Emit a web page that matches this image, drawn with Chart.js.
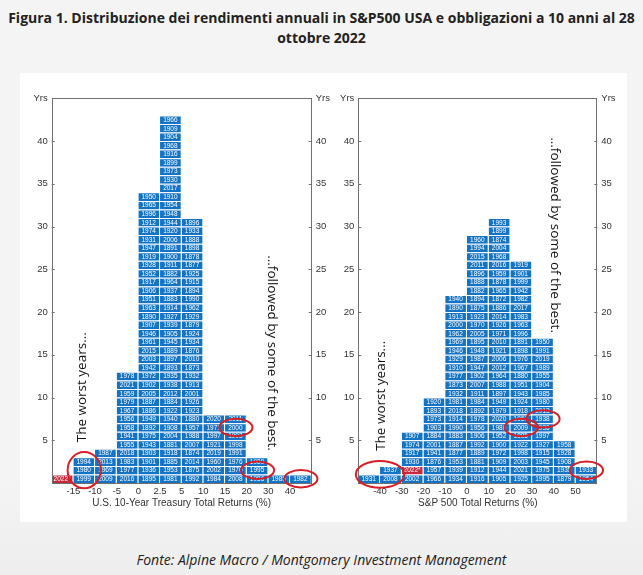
<!DOCTYPE html>
<html lang="it">
<head>
<meta charset="utf-8">
<script src="https://cdn.jsdelivr.net/npm/chart.js@4.4.1/dist/chart.umd.min.js"></script>
<style>
  html, body { margin: 0; padding: 0; }
  body {
    width: 643px; height: 575px; position: relative; overflow: hidden;
    background: linear-gradient(#f5f4f4 82%, #eeeeee);
    font-family: 'Open Sans', sans-serif; color: #222;
  }
  #titolo {
    position: absolute; top: 8px; left: 0; width: 643px; text-align: center;
    font-weight: 700; font-size: 14px; line-height: 20px;
  }
  #pannello { position: absolute; left: 20px; top: 73px; width: 607px; height: 449px; background: #fff; }
  #cBond  { position: absolute; left: 0; top: 0; }
  #cAzioni { position: absolute; left: 315px; top: 0; }
  #fonte {
    position: absolute; top: 550px; left: 0; width: 643px; text-align: center;
    font-style: italic; font-size: 14px; line-height: 20px;
  }
</style>
</head>
<body>
<div id="titolo">Figura 1. Distribuzione dei rendimenti annuali in S&amp;P500 USA e obbligazioni a 10 anni al 28<br>ottobre 2022</div>
<div id="pannello">
  <canvas id="cBond" width="320" height="449"></canvas>
  <canvas id="cAzioni" width="292" height="449"></canvas>
</div>
<div id="fonte">Fonte: Alpine Macro / Montgomery Investment Management</div>

<script>
// ── Dati: anni per classe di rendimento (dal basso verso l'alto) ──
const bondEdges = ['-15', '-10', '-5', '0', '2.5', '5', '10', '15', '20', '30', '40'];
const bondYears = [
  ['2022*'],
  ['1999', '1980', '1994'],
  ['2009', '1969', '2013', '1987'],
  ['2016', '1977', '1983', '2018', '1955', '1941', '1958', '1956', '1967', '1979', '1959', '2021', '1978'],
  ['1895', '1936', '1901', '1903', '1943', '1975', '1892', '1949', '1886', '1887', '2005', '1902', '1972',
   '1942', '2003', '2015', '1961', '1946', '1907', '1890', '1963', '1951', '1906', '1917', '1952', '1928',
   '1919', '1947', '1931', '1974', '1912', '1996', '1965', '1950'],
  ['1981', '1953', '1885', '1918', '1881', '2004', '1908', '1940', '1922', '1884', '2012', '1938', '1935',
   '1893', '1897', '1889', '1945', '1905', '1939', '1927', '1914', '1883', '1937', '1964', '1882', '1911',
   '1900', '1891', '2006', '1920', '1944', '1948', '1954', '1910', '2017', '1930', '1973', '1899', '1916',
   '1968', '1904', '1909', '1966'],
  ['1992', '1875', '2014', '1874', '2007', '1988', '1957', '1880', '1923', '1926', '2001', '1913', '1932',
   '1873', '2010', '1876', '1934', '1924', '1879', '1929', '1962', '1990', '1894', '1915', '1925', '1877',
   '1878', '1898', '1888', '1933', '1896'],
  ['1984', '2002', '1960', '2019', '1921', '1997', '1971', '2020'],
  ['2008', '1970', '1976', '1991', '1998', '1993', '2000', '2011'],
  ['1986', '1995', '1989'],
  ['1985'],
  ['1982']
];

const stockEdges = ['-40', '-30', '-20', '-10', '0', '10', '20', '30', '40', '50'];
const stockYears = [
  ['1931'],
  ['2008', '1937'],
  ['2002', '2022*', '1930', '1917', '1974', '1907'],
  ['1966', '1957', '1876', '1941', '2001', '1884', '1903', '1973', '1893', '1920'],
  ['1934', '1939', '1953', '1877', '1887', '1883', '1990', '1914', '2018', '1981', '1932', '1873', '1977',
   '1910', '1929', '1946', '1969', '1962', '2000', '1913', '1890', '1940'],
  ['1916', '1912', '1881', '1889', '1992', '1906', '1956', '1978', '1892', '1984', '1911', '2007', '1902',
   '1947', '1987', '1948', '1895', '2005', '1970', '1923', '1875', '1894', '1882', '1888', '1896', '2011',
   '2015', '1994', '1960'],
  ['1905', '1944', '1909', '1972', '1900', '1952', '1986', '2020', '1979', '1949', '1897', '1988', '1964',
   '2012', '2006', '1921', '2010', '1971', '1926', '2014', '1886', '1872', '1965', '1878', '1959', '2016',
   '1968', '2004', '1874', '1899', '1993'],
  ['1925', '2021', '2003', '1998', '1922', '1885', '2009', '1961', '1918', '1924', '1943', '1951', '1880',
   '1967', '1976', '1898', '1891', '1996', '1963', '1983', '2017', '1982', '1942', '1999', '1901', '1919'],
  ['1995', '1975', '1945', '1915', '1927', '1997', '1936', '1938', '2013', '1980', '1985', '1904', '1955',
   '1989', '2019', '1991', '1950'],
  ['1879', '1935', '1908', '1928', '1958'],
  ['1954', '1933']
];

// celle cerchiate in rosso: colonne e righe (indice 0 = in basso)
const bondCircles  = [{ c0: 1, c1: 1, r0: 0, r1: 2 }, { c0: 8, c1: 8, r0: 6, r1: 6 },
                      { c0: 9, c1: 9, r0: 1, r1: 1 }, { c0: 11, c1: 11, r0: 0, r1: 0 }];
const stockCircles = [{ c0: 0, c1: 1, r0: 0, r1: 1 }, { c0: 7, c1: 7, r0: 6, r1: 6 },
                      { c0: 8, c1: 8, r0: 7, r1: 7 }, { c0: 10, c1: 10, r0: 1, r1: 1 }];

// note verticali (coordinate in unità di colonna / anni)
const bondNotes  = [{ x: 1.42, y: 11.2, rot: -1, text: 'The worst years...' },
                    { x: 10.14, y: 15.2, rot: 1, text: '...followed by some of the best.' }];
const stockNotes = [{ x: 1.07, y: 10.2, rot: -1, text: 'The worst years...' },
                    { x: 9.05, y: 29, rot: 1, text: '...followed by some of the best.' }];

const BLU = '#1373c4';
const ROSSO = '#c7283b';
const FONT_ASSI = "'Liberation Sans', Arial, sans-serif";

// ── Plugin: anni dentro le celle ──
const etichetteAnni = {
  id: 'etichetteAnni',
  afterDatasetsDraw(chart) {
    const ctx = chart.ctx;
    ctx.save();
    ctx.fillStyle = '#fff';
    ctx.font = '6.5px ' + FONT_ASSI;
    ctx.textAlign = 'center';
    ctx.textBaseline = 'middle';
    chart.data.datasets.forEach(function(ds, i) {
      chart.getDatasetMeta(i).data.forEach(function(bar, j) {
        const p = bar.getProps(['x', 'y', 'base'], true);
        ctx.fillText(ds.data[j].anno, p.x - 0.5, (p.y + p.base) / 2 + 0.5);
      });
    });
    ctx.restore();
  }
};

// ── Plugin: cornice, tacche interne, ellissi, note ──
const decorazioni = {
  id: 'decorazioni',
  afterDraw(chart) {
    const ctx = chart.ctx;
    const a = chart.chartArea;
    const xs = chart.scales.x, ys = chart.scales.y;
    const opt = chart.options.plugins.decorazioni;
    ctx.save();
    // cornice
    ctx.strokeStyle = '#707070';
    ctx.lineWidth = 1;
    ctx.strokeRect(Math.round(a.left) + 0.5, Math.round(a.top) + 0.5,
                   Math.round(a.right - a.left) - 1, Math.round(a.bottom - a.top));
    // tacche verso l'interno
    ctx.beginPath();
    ys.ticks.forEach(function(t) {
      if (t.value <= 0 || t.value >= ys.max) return;
      const y = Math.round(ys.getPixelForValue(t.value)) + 0.5;
      ctx.moveTo(a.left, y); ctx.lineTo(a.left + 3, y);
      ctx.moveTo(a.right, y); ctx.lineTo(a.right - 3, y);
    });
    ctx.stroke();
    // ellissi rosse
    ctx.strokeStyle = '#d81f26';
    ctx.lineWidth = 2;
    opt.cerchi.forEach(function(e) {
      const x0 = xs.getPixelForValue(e.c0), x1 = xs.getPixelForValue(e.c1 + 1);
      const y0 = ys.getPixelForValue(e.r0), y1 = ys.getPixelForValue(e.r1 + 1);
      const w = x1 - x0, h = y0 - y1;
      ctx.beginPath();
      ctx.ellipse((x0 + x1) / 2, (y0 + y1) / 2, 0.35 * w + 9, 0.55 * h + 4, 0, 0, Math.PI * 2);
      ctx.stroke();
    });
    // note verticali
    ctx.fillStyle = '#111';
    ctx.font = "13.5px 'Open Sans', sans-serif";
    ctx.textAlign = 'center';
    ctx.textBaseline = 'middle';
    opt.note.forEach(function(n) {
      ctx.save();
      ctx.translate(xs.getPixelForValue(n.x), ys.getPixelForValue(n.y));
      ctx.rotate(n.rot * Math.PI / 2);
      ctx.fillText(n.text, 0, 0);
      ctx.restore();
    });
    ctx.restore();
  }
};

function creaIstogramma(canvasId, anni, bordi, titoloX, cerchi, note, largSx, largDx) {
  const el = document.getElementById(canvasId);
  if (!el) return;
  const maxAltezza = Math.max.apply(null, anni.map(function(c) { return c.length; }));
  const datasets = [];
  for (let r = 0; r < maxAltezza; r++) {
    const punti = [];
    anni.forEach(function(col, c) {
      if (col.length > r) punti.push({ x: c + 0.5, y: 1, anno: col[r] });
    });
    datasets.push({
      data: punti,
      backgroundColor: function(ctx) { return ctx.raw && ctx.raw.anno === '2022*' ? ROSSO : BLU; },
      borderColor: '#fff',
      borderWidth: { top: 1, right: 1, bottom: 0, left: 0 },
      borderSkipped: false,
      inflateAmount: 0,
      categoryPercentage: 1,
      barPercentage: 1
    });
  }

  const tickY = {
    stepSize: 5, padding: 4, color: '#333',
    font: { family: FONT_ASSI, size: 9.5 },
    callback: function(v) { return v === 45 ? 'Yrs' : (v === 0 ? '' : v); }
  };

  new Chart(el.getContext('2d'), {
    type: 'bar',
    data: { datasets: datasets },
    options: {
      responsive: false,
      animation: false,
      events: [],
      layout: { padding: { top: 25.3, left: 0, right: 0, bottom: 0 } },
      plugins: {
        legend: { display: false },
        tooltip: { enabled: false },
        decorazioni: { cerchi: cerchi, note: note }
      },
      scales: {
        x: {
          type: 'linear', min: 0, max: anni.length, offset: false, stacked: true,
          grid: { display: false, drawTicks: false, offset: false }, border: { display: false },
          ticks: {
            stepSize: 1, autoSkip: false, maxRotation: 0, padding: 3, color: '#333',
            font: { family: FONT_ASSI, size: 9.5 },
            callback: function(v) { return bordi[v - 1] || ''; }
          },
          title: {
            display: true, text: titoloX, color: '#333',
            font: { family: FONT_ASSI, size: 10 },
            padding: { top: 0, bottom: 13 }
          },
          afterFit: function(s) { s.height = 39; }
        },
        y: {
          min: 0, max: 45, stacked: true, position: 'left',
          grid: { display: false, drawTicks: false }, border: { display: false },
          ticks: tickY,
          afterFit: function(s) { s.width = largSx; }
        },
        yR: {
          type: 'linear', min: 0, max: 45, position: 'right',
          grid: { display: false, drawTicks: false }, border: { display: false },
          ticks: tickY,
          afterFit: function(s) { s.width = largDx; }
        }
      }
    },
    plugins: [etichetteAnni, decorazioni]
  });
}

creaIstogramma('cBond', bondYears, bondEdges, 'U.S. 10-Year Treasury Total Returns (%)',
               bondCircles, bondNotes, 31.7, 28.3);
creaIstogramma('cAzioni', stockYears, stockEdges, 'S&P 500 Total Returns (%)',
               stockCircles, stockNotes, 23.3, 29.7);
</script>
</body>
</html>
